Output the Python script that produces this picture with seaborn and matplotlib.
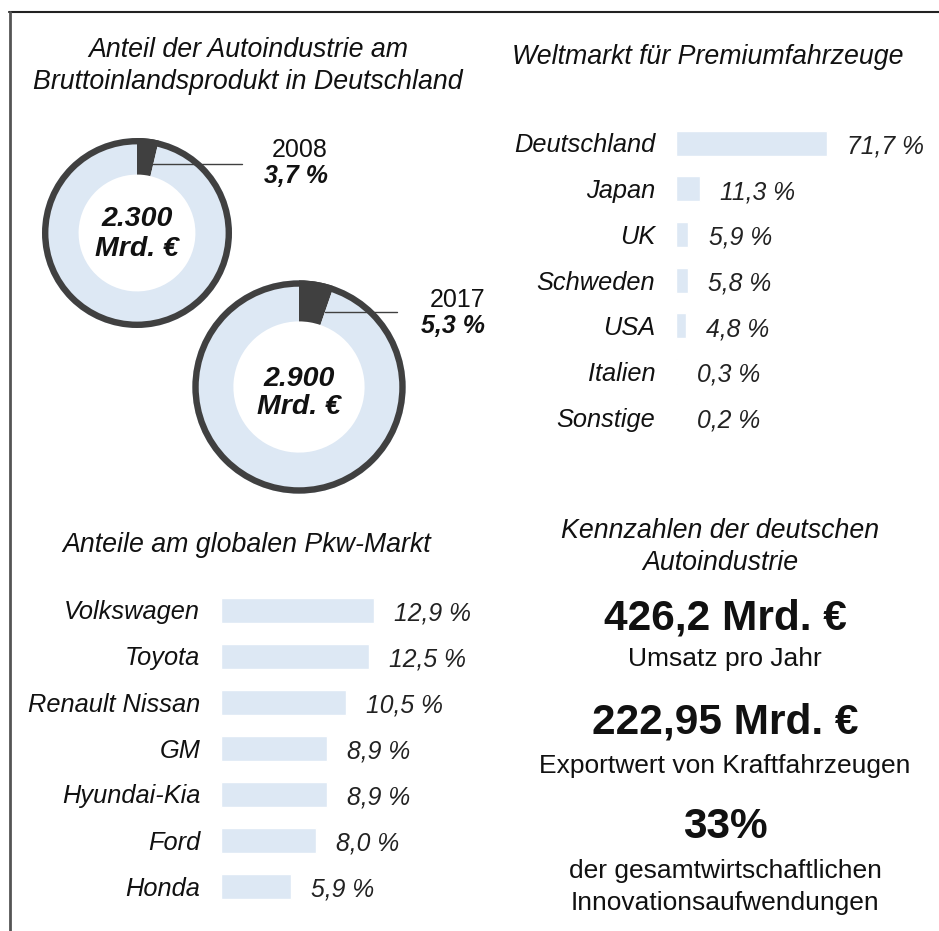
import numpy as np
import pandas as pd
import matplotlib.pyplot as plt
import matplotlib.lines as mlines
import seaborn as sns

# Daten
bip_years = ["2008", "2017"]
bip_total = [2300, 2900]  # Mrd. Euro
bip_share = [3.7, 5.3]  # Anteil Autoindustrie in %

premium_countries = ["Deutschland", "Japan", "UK", "Schweden", "USA", "Italien", "Sonstige"]
premium_share = [71.7, 11.3, 5.9, 5.8, 4.8, 0.3, 0.2]

pkw_makers = ["Volkswagen", "Toyota", "Renault Nissan", "GM", "Hyundai-Kia", "Ford", "Honda"]
pkw_share = [12.9, 12.5, 10.5, 8.9, 8.9, 8.0, 5.9]

kpi_values = ["426,2 Mrd. €", "222,95 Mrd. €", "33%"]
kpi_texts = ["Umsatz pro Jahr", "Exportwert von Kraftfahrzeugen",
             "der gesamtwirtschaftlichen\nInnovationsaufwendungen"]

# Stil
sns.set_style("white")
plt.rcParams["font.family"] = ["Liberation Sans", "DejaVu Sans"]
BAR = "#dde8f4"
DARK = "#404040"
INK = "#111111"

W, H = 939, 931
fig = plt.figure(figsize=(W / 100, H / 100), dpi=100)


def fx(x):
    return x / W


def fy(y):
    return 1 - y / H


def de(v):
    return f"{v:.1f}".replace(".", ",") + " %"


def txt(x, y, s, **kw):
    fig.text(fx(x), fy(y), s, ha=kw.pop("ha", "center"), va=kw.pop("va", "center"), **kw)


# Rahmen
fig.add_artist(mlines.Line2D([fx(9), 1], [fy(12), fy(12)], color="#222222", lw=1.5))
fig.add_artist(mlines.Line2D([fx(10), fx(10)], [fy(12), 0], color="#555555", lw=2))


# Balkendiagramme
def hbar(left, right, y_first, step, px_per_unit, cats, vals):
    n = len(cats)
    top = y_first - step / 2
    bottom = y_first + step * (n - 0.5)
    ax = fig.add_axes([fx(left), fy(bottom), fx(right - left), (bottom - top) / H])
    df = pd.DataFrame({"cat": cats, "val": vals})
    sns.barplot(data=df, x="val", y="cat", ax=ax, color=BAR, saturation=1,
                width=25 / step, orient="h")
    ax.set_xlim(0, (right - left) / px_per_unit)
    ax.set_ylim(n - 0.5, -0.5)
    for i, v in enumerate(vals):
        ax.annotate(de(v), xy=(v, i), xytext=(14.5, -2.5), textcoords="offset points",
                    ha="left", va="center", fontsize=17.8, fontstyle="italic",
                    color="#222222", annotation_clip=False)
    ax.tick_params(axis="y", length=0, pad=15)
    ax.set_xticks([])
    for lbl in ax.get_yticklabels():
        lbl.set_fontstyle("italic")
        lbl.set_fontsize(18.3)
        lbl.set_color(INK)
    ax.set_xlabel("")
    ax.set_ylabel("")
    sns.despine(ax=ax, left=True, bottom=True)
    ax.patch.set_alpha(0)
    return ax


hbar(676, 840, 143, 45.7, 151 / 71.7, premium_countries, premium_share)
hbar(221, 400, 610, 46, 153 / 12.9, pkw_makers, pkw_share)

# Donuts
ax_d = fig.add_axes([0, 0, 1, 1])
centers = [(137, 233), (299, 387)]
center_text_y = [234, 393]
line_end = [242, 397]
label_pos = [(328, 150), (485, 300)]
for i in range(2):
    cx, cy = centers[i]
    r = 95 * np.sqrt(bip_total[i] / bip_total[0])
    hole = r * 0.615
    ax_d.pie([bip_share[i], 100 - bip_share[i]], center=(cx, H - cy), radius=r,
             startangle=90, counterclock=False, colors=[DARK, BAR],
             wedgeprops=dict(width=r - hole, linewidth=0), frame=True)
    ax_d.add_patch(plt.Circle((cx, H - cy), r - 3.2, fill=False, ec=DARK, lw=4.6))
    theta = np.deg2rad(bip_share[i] / 100 * 360)
    rr = hole + 0.33 * (r - hole)
    x0 = cx + rr * np.sin(theta)
    y0 = H - cy + rr * np.cos(theta)
    ax_d.plot([x0, line_end[i]], [y0, y0], color=DARK, lw=1)
    txt(cx, center_text_y[i], f"{bip_total[i]:,}".replace(",", ".") + "\nMrd. €",
        fontsize=20.5, fontweight="bold", fontstyle="italic", linespacing=1.15, color=INK)
    lx, ly = label_pos[i]
    txt(lx, ly, bip_years[i], ha="right", fontsize=18, color=INK)
    txt(lx, ly + 26, de(bip_share[i]), ha="right", fontsize=18, fontweight="bold",
        fontstyle="italic", color=INK)
ax_d.set_xlim(0, W)
ax_d.set_ylim(0, H)
ax_d.axis("off")

# Titel
title_kw = dict(fontsize=19.3, fontstyle="italic", color=INK, linespacing=1.3)
txt(248, 66, "Anteil der Autoindustrie am\nBruttoinlandsprodukt in Deutschland", **title_kw)
txt(708, 57, "Weltmarkt für Premiumfahrzeuge", **title_kw)
txt(247, 545, "Anteile am globalen Pkw-Markt", **title_kw)
txt(720, 547, "Kennzahlen der deutschen\nAutoindustrie", **title_kw)

# Kennzahlen
kpi_y = [618, 722, 827]
sub_y = [659, 766, 887]
for v, s, y1, y2 in zip(kpi_values, kpi_texts, kpi_y, sub_y):
    txt(725, y1, v, fontsize=30.5, fontweight="bold", color=INK)
    txt(725, y2, s, fontsize=19, color=INK, linespacing=1.42)

fig.savefig("out.png", dpi=100)
